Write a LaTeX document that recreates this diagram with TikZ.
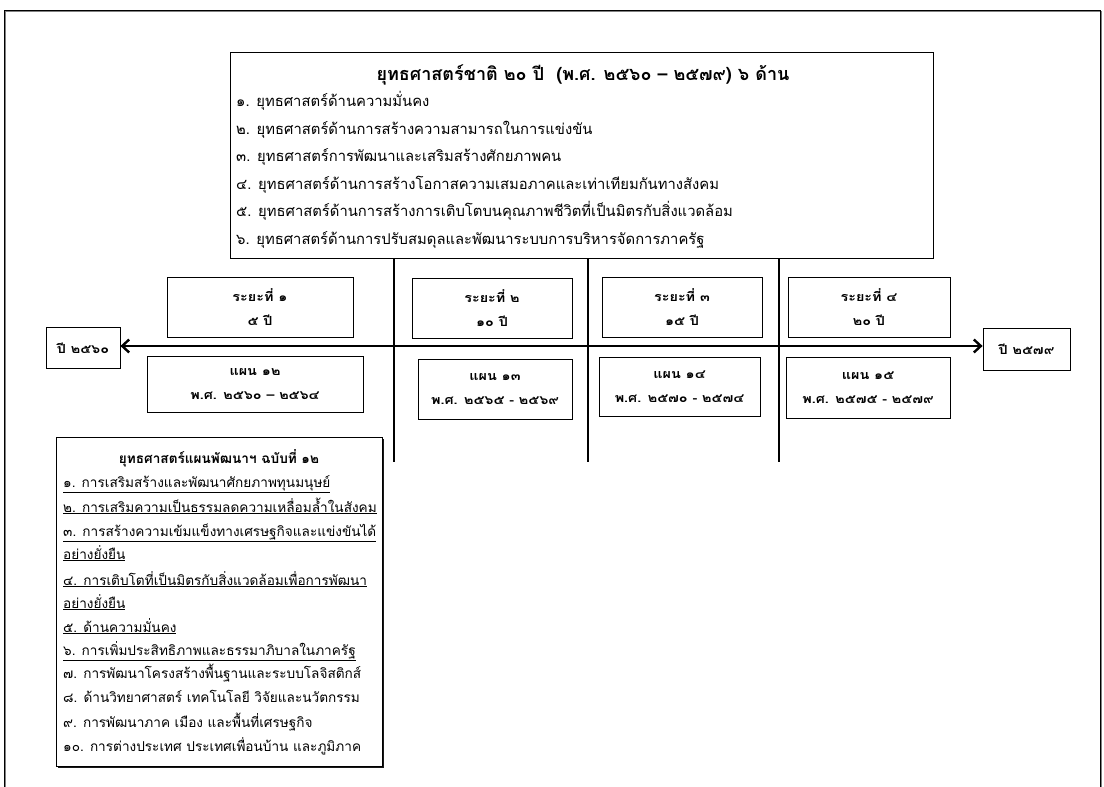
\documentclass[tikz,border=0pt]{standalone}
\usepackage{fontspec}
\setmainfont[Script=Thai]{Loma}
\newfontfamily\boxfont[Script=Thai,FakeStretch=1.15]{Loma}
\usetikzlibrary{arrows.meta,shadows}
\tikzset{
  boxst/.style={draw, line width=0.8pt, inner sep=0pt, align=center},
  shad/.style={drop shadow={shadow xshift=1.6pt, shadow yshift=-1.6pt, fill=black, opacity=0.9}, fill=white},
  litem/.style={inner sep=0pt, anchor=base west, font=\fontsize{14.8}{18}\selectfont},
  bitem/.style={inner sep=0pt, anchor=base west, font=\fontsize{13.6}{16}\selectfont},
  pertxt/.style={font=\boxfont\bfseries\fontsize{12.5}{24}\selectfont},
  thick3/.style={line width=2.6pt},
}
\begin{document}
\begin{tikzpicture}[x=1pt,y=-1pt]
\useasboundingbox (0,0) rectangle (1104,787);
% outer frame
\draw[line width=0.9pt, gray] (5.5,787) -- (5.5,11.5) -- (1101.5,11.5) -- (1101.5,787);
\draw[line width=0.8pt] (4,787) -- (4,10) -- (1100,10) -- (1100,787);

% top box
\node[boxst, minimum width=703, minimum height=206] (top) at (581.5,155) {};
\node[inner sep=0pt, font=\bfseries\fontsize{18}{20}\selectfont] (toptitle) at (583,75) {ยุทธศาสตร์ชาติ ๒๐ ปี \ (พ.ศ. ๒๕๖๐ – ๒๕๗๙) ๖ ด้าน};
\foreach \n/\yy/\t in {
 1/101/{๑. ยุทธศาสตร์ด้านความมั่นคง},
 2/129/{๒. ยุทธศาสตร์ด้านการสร้างความสามารถในการแข่งขัน},
 3/156/{๓. ยุทธศาสตร์การพัฒนาและเสริมสร้างศักยภาพคน},
 4/184/{๔. ยุทธศาสตร์ด้านการสร้างโอกาสความเสมอภาคและเท่าเทียมกันทางสังคม},
 5/211/{๕. ยุทธศาสตร์ด้านการสร้างการเติบโตบนคุณภาพชีวิตที่เป็นมิตรกับสิ่งแวดล้อม},
 6/239/{๖. ยุทธศาสตร์ด้านการปรับสมดุลและพัฒนาระบบการบริหารจัดการภาครัฐ}}
 \node[litem] (tl\n) at (236,\yy+5) {\t};

% vertical lines
\coordinate (v1) at (394,462);
\coordinate (v2) at (588,462);
\coordinate (v3) at (779,462);
\draw[thick3] (v1 |- top.south) -- (v1);
\draw[thick3] (v2 |- top.south) -- (v2);
\draw[thick3] (v3 |- top.south) -- (v3);

% year boxes and arrow
\node[boxst, minimum width=74, minimum height=41, font=\boxfont\bfseries\fontsize{12.5}{14}\selectfont] (y1) at (83,348) {ปี ๒๕๖๐};
\node[boxst, minimum width=87, minimum height=42, font=\boxfont\bfseries\fontsize{12.5}{14}\selectfont] (y2) at (1026.5,349) {ปี ๒๕๗๙};
\draw[thick3, {Straight Barb[length=7pt,width=13pt,line width=2.4pt]}-{Straight Barb[length=7pt,width=13pt,line width=2.4pt]}] (y1.east |- 0,346) -- (y2.west |- 0,346);

% period boxes
\node[boxst, pertxt, minimum width=186, minimum height=60] (p1) at (260,307) {ระยะที่ ๑\\๕ ปี};
\node[boxst, pertxt, minimum width=160, minimum height=60] (p2) at (492,308) {ระยะที่ ๒\\๑๐ ปี};
\node[boxst, pertxt, minimum width=160, minimum height=60] (p3) at (682,307) {ระยะที่ ๓\\๑๕ ปี};
\node[boxst, pertxt, minimum width=162, minimum height=60] (p4) at (869,307) {ระยะที่ ๔\\๒๐ ปี};

% plan boxes
\node[boxst, pertxt, minimum width=216, minimum height=56] (q1) at (255,384) {แผน ๑๒\\พ.ศ. ๒๕๖๐ – ๒๕๖๔};
\node[boxst, pertxt, minimum width=154, minimum height=60] (q2) at (495,389) {แผน ๑๓\\พ.ศ. ๒๕๖๕ - ๒๕๖๙};
\node[boxst, pertxt, minimum width=161, minimum height=59] (q3) at (679.5,387) {แผน ๑๔\\พ.ศ. ๒๕๗๐ - ๒๕๗๔};
\node[boxst, pertxt, minimum width=164, minimum height=61] (q4) at (868,388) {แผน ๑๕\\พ.ศ. ๒๕๗๕ - ๒๕๗๙};

% bottom-left box
\node[boxst, shad, minimum width=326, minimum height=329] (nb) at (219,601.5) {};
\node[inner sep=0pt, font=\bfseries\fontsize{13.6}{16}\selectfont] (nbt) at (219,458) {ยุทธศาสตร์แผนพัฒนาฯ ฉบับที่ ๑๒};
\foreach \n/\yy/\t in {
 1/482/{\underline{๑. การเสริมสร้างและพัฒนาศักยภาพทุนมนุษย์}},
 2/507/{\underline{๒. การเสริมความเป็นธรรมลดความเหลื่อมล้ำในสังคม}},
 3/531/{\underline{๓. การสร้างความเข้มแข็งทางเศรษฐกิจและแข่งขันได้}},
 4/554/{\underline{อย่างยั่งยืน}},
 5/580/{\underline{๔. การเติบโตที่เป็นมิตรกับสิ่งแวดล้อมเพื่อการพัฒนา}},
 6/603/{\underline{อย่างยั่งยืน}},
 7/627/{\underline{๕. ด้านความมั่นคง}},
 8/650/{\underline{๖. การเพิ่มประสิทธิภาพและธรรมาภิบาลในภาครัฐ}},
 9/673/{๗. การพัฒนาโครงสร้างพื้นฐานและระบบโลจิสติกส์},
 10/697/{๘. ด้านวิทยาศาสตร์ เทคโนโลยี วิจัยและนวัตกรรม},
 11/722/{๙. การพัฒนาภาค เมือง และพื้นที่เศรษฐกิจ},
 12/746/{๑๐. การต่างประเทศ ประเทศเพื่อนบ้าน และภูมิภาค}}
 \node[bitem] (bl\n) at (63,\yy+5) {\t};
\end{tikzpicture}
\end{document}
